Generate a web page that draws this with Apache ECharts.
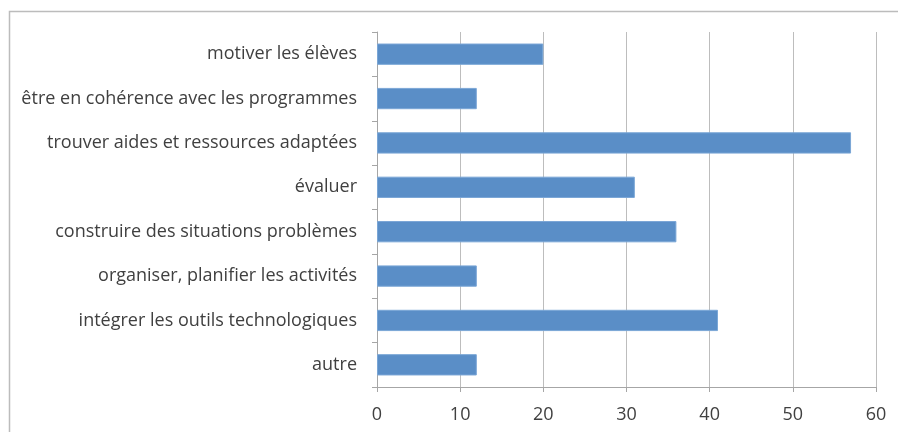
<!DOCTYPE html>
<html>
<head>
<meta charset="utf-8">
<script src="https://cdn.jsdelivr.net/npm/echarts@6/dist/echarts.min.js"></script>
<style>
  html, body { margin: 0; padding: 0; background: #fff; }
  #chart { width: 898px; height: 432px; }
</style>
</head>
<body>
<div id="chart"></div>
<script>
// categories listed bottom to top (ECharts category y-axis starts at bottom)
const categories = [
  'autre',
  'intégrer les outils technologiques',
  'organiser, planifier les activités',
  'construire des situations problèmes',
  'évaluer',
  'trouver aides et ressources adaptées',
  'être en cohérence avec les programmes',
  'motiver les élèves'
]
const values = [12, 41, 12, 36, 31, 57, 12, 20]
const xTicks = { min: 0, max: 60, interval: 10 }

const chart = echarts.init(document.getElementById('chart'))

const font = '"Open Sans", Lato, sans-serif'

const option = {
  backgroundColor: '#fff',
  animation: false,
  graphic: [
    {
      type: 'rect',
      shape: { x: 9.5, y: 11.5, width: 900, height: 440 },
      style: { fill: 'none', stroke: '#bcbcbc', lineWidth: 1.5 },
      silent: true
    }
  ],
  grid: {
    left: 377,
    right: 22,
    top: 32,
    bottom: 45
  },
  xAxis: {
    type: 'value',
    min: xTicks.min,
    max: xTicks.max,
    interval: xTicks.interval,
    axisLine: { show: true, lineStyle: { color: '#a6a6a6', width: 1 } },
    axisTick: { show: true, length: 5, lineStyle: { color: '#a6a6a6' } },
    axisLabel: { color: '#404040', fontSize: 18, fontFamily: font, margin: 19 },
    splitLine: { show: true, lineStyle: { color: '#bdbdbd', width: 1 } }
  },
  yAxis: {
    type: 'category',
    data: categories,
    axisLine: { show: true, lineStyle: { color: '#a6a6a6', width: 1 } },
    axisTick: { show: true, length: 5, lineStyle: { color: '#a6a6a6' } },
    axisLabel: { color: '#404040', fontSize: 18, fontFamily: font, margin: 20 }
  },
  series: [
    {
      type: 'bar',
      data: values,
      barWidth: '48%',
      itemStyle: {
        color: '#5a8ec7',
        borderColor: '#7aa6d6',
        borderWidth: 1
      }
    }
  ]
}

chart.setOption(option)
</script>
</body>
</html>
